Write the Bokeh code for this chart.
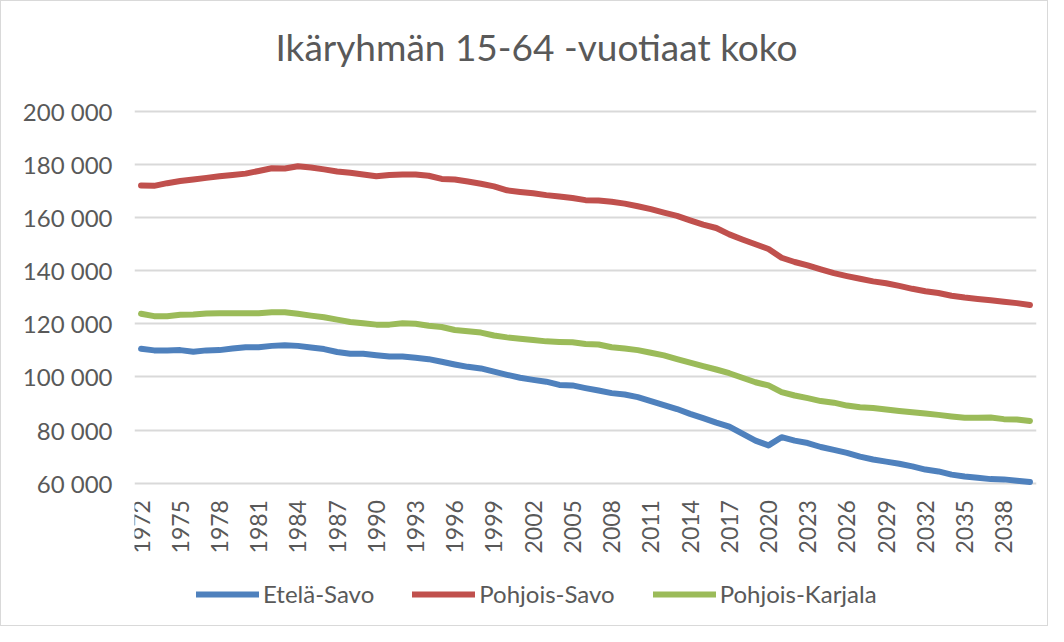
from bokeh.plotting import figure
from bokeh.models import FixedTicker, Legend, LegendItem, Label
from bokeh.embed import file_html
from bokeh.resources import INLINE
import math

years = list(range(1972, 2041))

etela_savo = [
    110600, 110000, 110000, 110100, 109500, 110000, 110100, 110700, 111200, 111200,
    111700, 111900, 111700, 111100, 110500, 109400, 108700, 108700, 108200, 107700,
    107700, 107200, 106700, 105700, 104700, 103800, 103200, 102000, 100800, 99700,
    98900, 98200, 97000, 96800, 95800, 94900, 93900, 93400, 92400, 90900,
    89400, 87900, 86100, 84500, 82800, 81300, 78600, 76000, 74200, 77300,
    76000, 75100, 73600, 72500, 71400, 70000, 68900, 68100, 67300, 66300,
    65100, 64400, 63200, 62500, 62000, 61500, 61400, 60900, 60400,
]

pohjois_savo = [
    172100, 172000, 173000, 173800, 174400, 175000, 175600, 176100, 176600, 177600,
    178600, 178500, 179400, 178900, 178200, 177400, 176900, 176300, 175600, 176100,
    176300, 176300, 175800, 174600, 174400, 173600, 172800, 171800, 170300, 169700,
    169200, 168500, 168000, 167400, 166600, 166500, 166000, 165300, 164300, 163200,
    161900, 160700, 159000, 157400, 156100, 153700, 151800, 150000, 148200, 144900,
    143300, 142000, 140500, 139100, 138000, 137000, 136000, 135300, 134300, 133200,
    132300, 131600, 130600, 129900, 129400, 128900, 128300, 127800, 127100,
]

pohjois_karjala = [
    123800, 122900, 122900, 123400, 123500, 123900, 124000, 124000, 124000, 124000,
    124400, 124400, 123800, 123100, 122500, 121600, 120700, 120200, 119700, 119700,
    120200, 120000, 119300, 118800, 117700, 117200, 116700, 115600, 114900, 114400,
    113900, 113400, 113200, 113100, 112400, 112200, 111200, 110700, 110100, 109100,
    108100, 106700, 105400, 104100, 102800, 101400, 99700, 98000, 96800, 94300,
    93000, 92000, 90900, 90300, 89200, 88600, 88300, 87700, 87200, 86700,
    86200, 85700, 85100, 84600, 84600, 84700, 84100, 84000, 83400,
]

series_names = ["Etelä-Savo", "Pohjois-Savo", "Pohjois-Karjala"]
series_colors = ["#4f81bd", "#c0504d", "#9bbb59"]

x_ticks = list(range(1972, 2039, 3))
x_tick_labels = [str(y) for y in x_ticks]
y_ticks = [60000, 80000, 100000, 120000, 140000, 160000, 180000, 200000]
y_tick_labels = ["60 000", "80 000", "100 000", "120 000", "140 000", "160 000", "180 000", "200 000"]

title_text = "Ikäryhmän 15-64 -vuotiaat koko"

W, H = 1048, 626
# the frame fills the full height; value ticks cover only 60 000 - 200 000,
# leaving room above for the title and below for the legend
px_per_unit = 371.6 / (y_ticks[-1] - y_ticks[0])
y_high = y_ticks[-1] + 110 / px_per_unit
y_low = y_high - H / px_per_unit

p = figure(
    width=W, height=H,
    output_backend="svg", toolbar_location=None,
    x_range=(years[0] - 0.5, years[-1] + 0.5),
    y_range=(y_low, y_high),
    min_border_left=133, min_border_right=13,
    min_border_top=0, min_border_bottom=0,
)
p.styles = {"border": "1px solid #d9d9d9"}

p.outline_line_color = None
p.background_fill_color = "white"
p.border_fill_color = "white"

p.xgrid.grid_line_color = None
p.ygrid.grid_line_color = "#d9d9d9"
p.ygrid.grid_line_width = 2

p.xaxis.ticker = FixedTicker(ticks=x_ticks)
p.xaxis.major_label_overrides = {t: l for t, l in zip(x_ticks, x_tick_labels)}
p.xaxis.fixed_location = y_ticks[0]
p.yaxis.ticker = FixedTicker(ticks=y_ticks)
p.yaxis.major_label_overrides = {t: l for t, l in zip(y_ticks, y_tick_labels)}

for ax in (p.xaxis[0], p.yaxis[0]):
    ax.axis_line_color = None
    ax.major_tick_line_color = None
    ax.minor_tick_line_color = None
    ax.major_tick_out = 0
    ax.major_tick_in = 0
    ax.major_label_text_font = "Lato"
    ax.major_label_text_color = "#595959"

p.yaxis.major_label_text_font_size = "24px"
p.xaxis.major_label_text_font_size = "23px"
p.yaxis.major_label_standoff = 22
p.xaxis.major_label_standoff = 17
p.xaxis.major_label_orientation = math.pi / 2

renderers = []
for vals, color in zip([etela_savo, pohjois_savo, pohjois_karjala], series_colors):
    r = p.line(years, vals, line_color=color, line_width=6,
               line_cap="round", line_join="round")
    renderers.append(r)

title = Label(
    x=141, y=H - 45, x_units="screen", y_units="screen",
    text=title_text, text_font="Lato", text_font_size="37px",
    text_color="#595959", text_align="left", text_baseline="alphabetic",
)
p.add_layout(title)

legend = Legend(
    items=[LegendItem(label=n, renderers=[r]) for n, r in zip(series_names, renderers)],
    orientation="horizontal",
    location=(62, 19),
    glyph_width=63, glyph_height=24,
    label_standoff=4, spacing=38, padding=0, margin=0,
    label_text_font="Lato", label_text_font_size="24px",
    label_text_color="#595959",
    border_line_color=None, background_fill_alpha=0,
)
p.add_layout(legend)

open("out.html", "w").write(file_html(p, INLINE))
